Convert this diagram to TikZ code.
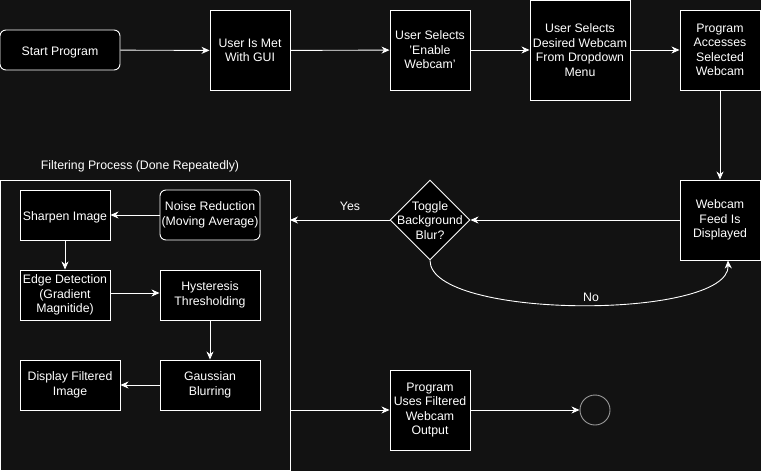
\documentclass[tikz,border=0pt]{standalone}
\usepackage{fontspec}
\setmainfont{Liberation Sans}
\usetikzlibrary{shapes.geometric,arrows.meta}
\definecolor{bgdark}{HTML}{121212}
\definecolor{ringgray}{HTML}{9A9A9A}
\begin{document}
\begin{tikzpicture}[x=1pt,y=-1pt,
  font=\fontsize{12.3}{14.5}\selectfont,
  every node/.style={text=white},
  box/.style={draw=white,fill=black,line width=0.9pt,align=center,inner sep=0pt},
  rbox/.style={box,rounded corners=6pt},
  oneline/.style={text height=11pt,text depth=1pt},
  flow/.style={draw=white,line width=0.9pt,-{Stealth[length=8pt,width=7pt,inset=2.5pt]}},
  lbl/.style={inner sep=1pt}]
\useasboundingbox (0,0) rectangle (761,471);
\fill[bgdark] (0,0) rectangle (761,471);

% top row
\node[rbox,oneline,minimum width=120pt,minimum height=40pt] (start) at (60,50) {Start Program};
\node[box,minimum width=80pt,minimum height=80pt] (gui) at (250,50.5) {User Is Met\\With GUI};
\node[box,minimum width=80pt,minimum height=80pt] (enable) at (430,50) {User Selects\\'Enable\\Webcam'};
\node[box,minimum width=100pt,minimum height=100pt] (choose) at (580,50) {User Selects\\Desired Webcam\\From Dropdown\\Menu};
\node[box,minimum width=80pt,minimum height=80pt] (access) at (720,50) {Program\\Accesses\\Selected\\Webcam};

% middle row
\node[box,minimum width=80pt,minimum height=80pt] (feed) at (720,220) {Webcam\\Feed Is\\Displayed};
\node[box,diamond,aspect=1,minimum width=80pt,minimum height=80pt] (blur) at (430,220) {};
\node[align=center,inner sep=0pt] (blurtext) at (430,220.5) {Toggle\\Background\\Blur?};

% filtering container
\draw[white,line width=0.9pt,fill=bgdark] (0.5,180) rectangle (290,470.5);
\coordinate (cin) at (290,220);
\coordinate (cout) at (290,410);
\node[oneline] (ftitle) at (140,164) {Filtering Process (Done Repeatedly)};
\node[box,oneline,minimum width=90pt,minimum height=50pt] (sharp) at (65,215) {Sharpen Image};
\node[rbox,minimum width=100pt,minimum height=50pt] (noise) at (210,215) {Noise Reduction\\(Moving Average)};
\node[box,minimum width=90pt,minimum height=50pt] (edge) at (65,295) {Edge Detection\\(Gradient\\Magnitide)};
\node[box,minimum width=100pt,minimum height=50pt] (hyst) at (210,295) {Hysteresis\\Thresholding};
\node[box,minimum width=100pt,minimum height=50pt] (disp) at (70,385) {Display Filtered\\Image};
\node[box,minimum width=100pt,minimum height=50pt] (gauss) at (210,385) {Gaussian\\Blurring};

% bottom row
\node[box,minimum width=80pt,minimum height=80pt] (useout) at (430,410) {Program\\Uses Filtered\\Webcam\\Output};
\node[draw=ringgray,fill=bgdark,circle,line width=0.9pt,minimum size=30pt,inner sep=0pt] (finish) at (595,410) {};

% connectors
\draw[flow] (start) -- (gui);
\draw[flow] (gui) -- (enable);
\draw[flow] (enable) -- (choose);
\draw[flow] (choose) -- (access);
\draw[flow] (access) -- (feed);
\draw[flow] (feed) -- (blur);
\draw[flow] (blur.west) -- (cin);
\node[oneline] (yes) at (350,205) {Yes};
\draw[flow] (blur.south) .. controls (430,320) and (730,320) .. ([xshift=8pt]feed.south);
\node[oneline] (no) at (591,296) {No};
\draw[flow] (noise) -- (sharp);
\draw[flow] (sharp) -- (edge);
\draw[flow] ([yshift=2pt]edge.east) -- ([yshift=2pt]hyst.west);
\draw[flow] (hyst) -- (gauss);
\draw[flow] (gauss) -- (disp);
\draw[flow] (cout) -- (useout);
\draw[flow] (useout) -- (finish);
\end{tikzpicture}
\end{document}
